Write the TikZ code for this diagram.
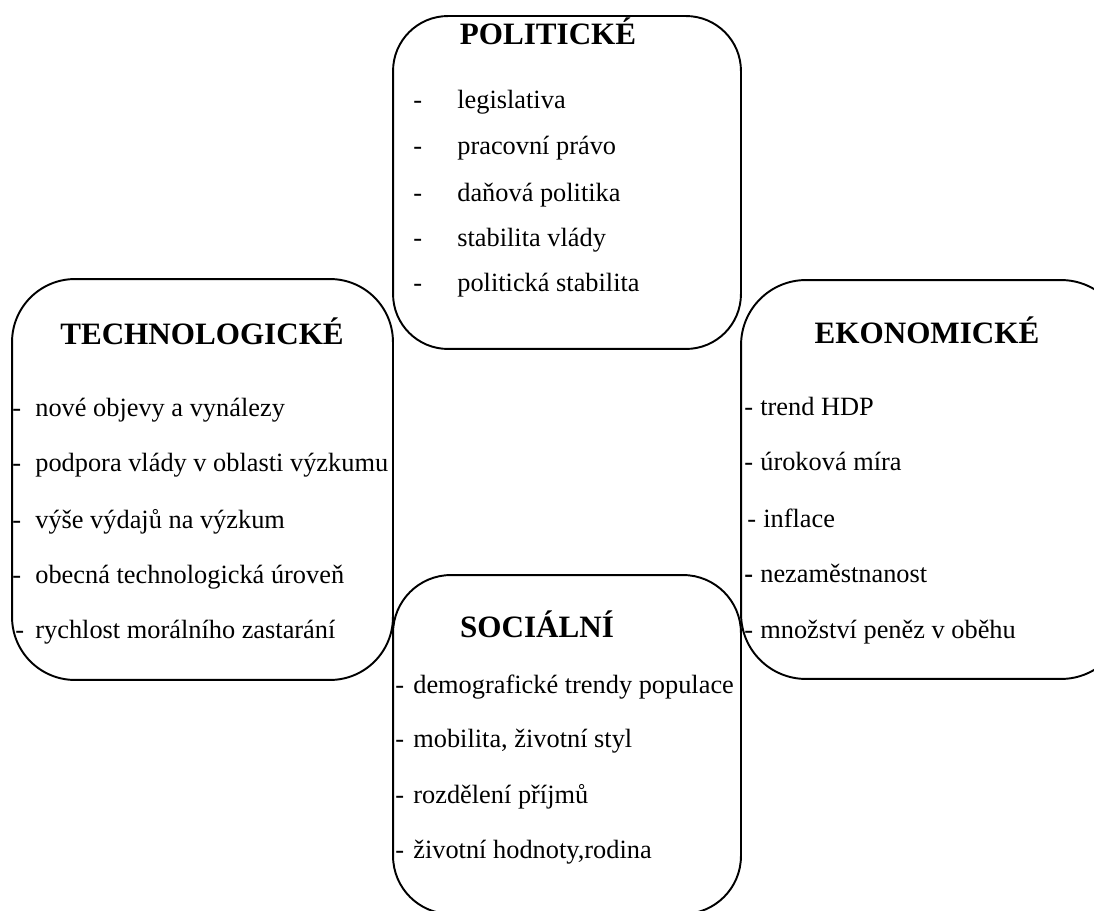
\documentclass[tikz,border=0pt]{standalone}
\usepackage{fontspec}
\setmainfont{Liberation Serif}
\newfontfamily\serifbody{Liberation Serif}
\begin{document}
\begin{tikzpicture}[x=0.02cm,y=-0.02cm,
  box/.style={draw,line width=1.1pt,rounded corners=#1,inner sep=0pt},
  head/.style={font=\serifbody\fontsize{17.7}{21}\selectfont\bfseries,anchor=base,inner sep=0pt},
  item/.style={font=\serifbody\fontsize{15}{18}\selectfont,anchor=base west,inner sep=0pt}]
        \clip (0,0) rectangle (1094,911);

        % the four boxes
        \node[box=1.1cm,minimum width=6.96cm,minimum height=6.66cm] (pol) at (567,182.5) {};
        \node[box=1.26cm,minimum width=7.62cm,minimum height=8.02cm] (tech) at (202.5,479.5) {};
        \node[box=1.3cm,minimum width=7.7cm,minimum height=7.98cm] (eko) at (933.5,479.5) {};
        \node[box=1.16cm,minimum width=6.96cm,minimum height=6.78cm] (soc) at (567,744.5) {};

        \node[head] (pol-head) at (548,45) {POLITICKÉ};
        \node[head] (tech-head) at (202,345) {TECHNOLOGICKÉ};
        \node[head] (eko-head) at (927,344) {EKONOMICKÉ};
        \node[head] (soc-head) at (537,637) {SOCIÁLNÍ};

        \foreach \y/\t [count=\i] in {109/legislativa,155/pracovní právo,202/daňová politika,
          247/stabilita vlády,292/politická stabilita}
        {
          \node[item] (pol-d\i) at (413,\y) {-};
          \node[item] (pol-\i) at (457,\y) {\t};
        }

        \foreach \x/\y/\t [count=\i] in {12/417/nové objevy a vynálezy,12/472/podpora vlády v oblasti výzkumu,
          12/528/výše výdajů na výzkum,12/583/obecná technologická úroveň,15/638/rychlost morálního zastarání}
        {
          \node[item] (tech-d\i) at (\x,\y) {-};
          \node[item] (tech-\i) at (35,\y) {\t};
        }

        \foreach \x/\y/\t/\d [count=\i] in {744/416/trend HDP/-,744/471/úroková míra/-,747/527/inflace/-,
          744/582/nezaměstnanost/\textbf{-},744/638/množství peněz v oběhu/-}
        {
          \node[item] (eko-d\i) at (\x,\y) {\d};
          \node[item] (eko-\i) at (\x+16,\y) {\t};
        }

        \foreach \y/\t [count=\i] in {693/demografické trendy populace,747/{mobilita, životní styl},
          803/rozdělení příjmů,858/{životní hodnoty,rodina}}
        {
          \node[item] (soc-d\i) at (395,\y) {-};
          \node[item] (soc-\i) at (413,\y) {\t};
        }
\end{tikzpicture}
\end{document}
